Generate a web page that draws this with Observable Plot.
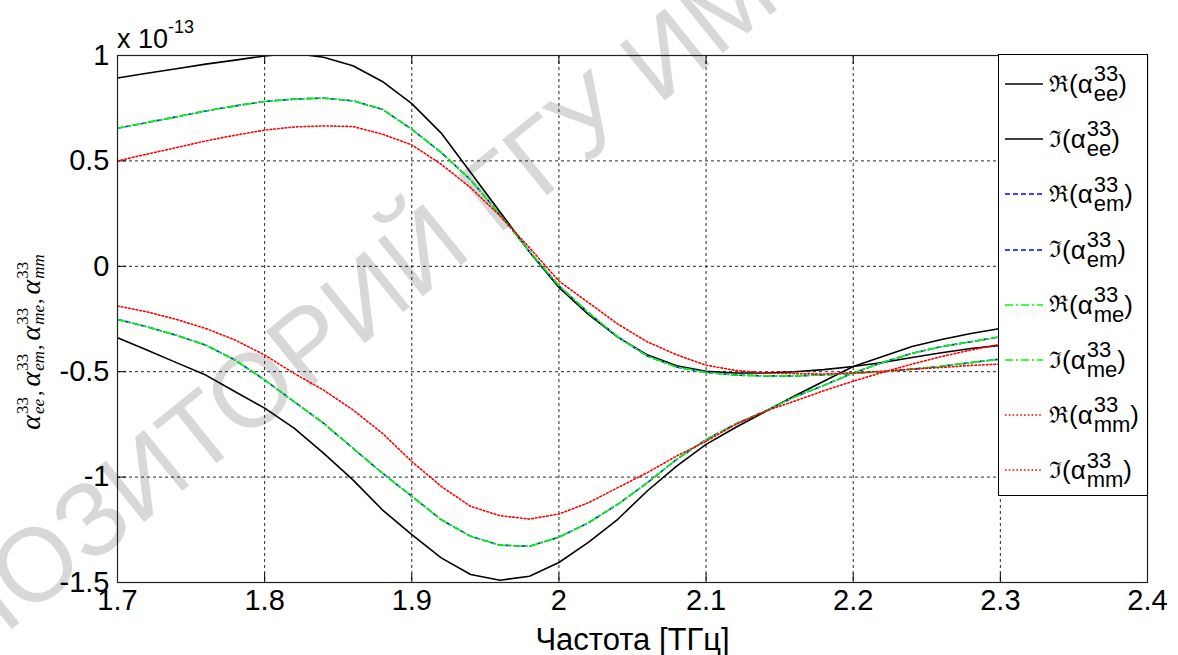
<!DOCTYPE html>
<html>
<head>
<meta charset="utf-8">
<script src="https://cdn.jsdelivr.net/npm/d3@7"></script>
<script src="https://cdn.jsdelivr.net/npm/@observablehq/plot@0.6"></script>
<style>
html, body { margin: 0; padding: 0; background: #fff; }
#wrap { position: relative; width: 1178px; height: 655px; overflow: hidden; font-family: "Liberation Sans", Arial, sans-serif; color: #000; }
#wm { position: absolute; left: 0; top: 0; }
#chart { position: absolute; left: 0; top: 0; }
#expo { position: absolute; left: 117px; top: 23px; font-size: 27px; white-space: nowrap; line-height: 1; }
#expo sup { font-size: 18px; position: relative; top: -5px; }
#ylab { position: absolute; left: 31px; top: 342px; transform: translate(-50%, -50%) rotate(-90deg); white-space: nowrap; font-family: "Liberation Serif", "Times New Roman", serif; display: flex; align-items: center; }
#ylab .al { font-size: 28px; font-style: italic; line-height: 1; }
#ylab .ss { display: inline-flex; flex-direction: column; line-height: 0.95; font-size: 17px; margin-left: 1px; }
#ylab .sb { font-style: italic; }
#ylab .cm { font-size: 22px; margin: 0 4px 0 1px; align-self: flex-end; }
#legend { position: absolute; left: 998px; top: 54px; width: 150px; height: 442px; border: 1px solid #000; background: #fff; box-sizing: border-box; }
#legend .item { position: absolute; left: 0; height: 50px; display: flex; align-items: center; }
#legend svg { margin-left: 6px; margin-right: 6px; }
#legend .lab { display: flex; align-items: center; font-size: 26px; line-height: 1; }
#legend .ss { display: inline-flex; flex-direction: column; line-height: 0.9; font-size: 22px; margin-left: 1px; }
#legend .sym { font-family: "DejaVu Serif", serif; font-size: 23px; }
</style>
</head>
<body>
<div id="wrap">
  <svg id="wm" width="1178" height="655"></svg>
  <div id="chart"></div>
  <div id="expo"></div>
  <div id="ylab"></div>
  <div id="legend"></div>
</div>
<script>
// ---- data (values ×1e-13) ----
const freq = [1.70,1.72,1.74,1.76,1.78,1.80,1.82,1.84,1.86,1.88,1.90,1.92,1.94,1.96,1.98,2.00,2.02,2.04,2.06,2.08,2.10,2.12,2.14,2.16,2.18,2.20,2.22,2.24,2.26,2.28,2.30];
const reEe = [0.893,0.916,0.937,0.959,0.978,0.998,1.01,0.992,0.951,0.877,0.772,0.632,0.445,0.258,0.068,-0.10,-0.228,-0.336,-0.42,-0.472,-0.498,-0.506,-0.506,-0.50,-0.49,-0.475,-0.456,-0.433,-0.41,-0.39,-0.375];
const imEe = [-0.339,-0.397,-0.457,-0.516,-0.595,-0.673,-0.768,-0.886,-1.013,-1.155,-1.273,-1.383,-1.462,-1.489,-1.47,-1.405,-1.31,-1.20,-1.066,-0.948,-0.845,-0.765,-0.69,-0.615,-0.545,-0.475,-0.428,-0.38,-0.347,-0.319,-0.295];
const reEm = [0.655,0.682,0.709,0.737,0.761,0.782,0.793,0.798,0.785,0.745,0.65,0.54,0.41,0.245,0.07,-0.092,-0.22,-0.335,-0.425,-0.478,-0.503,-0.516,-0.52,-0.52,-0.515,-0.508,-0.5,-0.488,-0.474,-0.457,-0.44];
const imEm = [-0.252,-0.287,-0.327,-0.374,-0.445,-0.539,-0.642,-0.744,-0.863,-0.981,-1.091,-1.202,-1.281,-1.323,-1.328,-1.285,-1.217,-1.129,-1.027,-0.916,-0.822,-0.748,-0.687,-0.62,-0.565,-0.506,-0.456,-0.413,-0.381,-0.358,-0.334];
const reMe = [0.655,0.682,0.709,0.737,0.761,0.782,0.793,0.798,0.785,0.745,0.65,0.54,0.41,0.245,0.07,-0.092,-0.22,-0.335,-0.425,-0.478,-0.503,-0.516,-0.52,-0.52,-0.515,-0.508,-0.5,-0.488,-0.474,-0.457,-0.44];
const imMe = [-0.252,-0.287,-0.327,-0.374,-0.445,-0.539,-0.642,-0.744,-0.863,-0.981,-1.091,-1.202,-1.281,-1.323,-1.328,-1.285,-1.217,-1.129,-1.027,-0.916,-0.822,-0.748,-0.687,-0.62,-0.565,-0.506,-0.456,-0.413,-0.381,-0.358,-0.334];
const reMm = [0.50,0.532,0.563,0.595,0.622,0.646,0.661,0.666,0.663,0.627,0.576,0.484,0.373,0.239,0.088,-0.07,-0.172,-0.274,-0.358,-0.42,-0.469,-0.494,-0.506,-0.509,-0.511,-0.506,-0.498,-0.488,-0.48,-0.47,-0.464];
const imMm = [-0.188,-0.216,-0.252,-0.295,-0.35,-0.421,-0.508,-0.587,-0.681,-0.792,-0.926,-1.044,-1.139,-1.183,-1.199,-1.175,-1.122,-1.05,-0.979,-0.9,-0.83,-0.751,-0.688,-0.64,-0.59,-0.545,-0.503,-0.464,-0.428,-0.397,-0.37];

const xTicks = [1.7,1.8,1.9,2.0,2.1,2.2,2.3,2.4];
const yTicks = [-1.5,-1,-0.5,0,0.5,1];
const xLabel = "Частота [ТГц]";
const expoBase = "x 10";
const expoPower = "-13";
const partSymbols = ["ℜ","ℑ"];
const subscripts = ["ee","em","me","mm"];
const superscript = "33";
const seriesColors = ["#000000","#0000ff","#00ff00","#ff0000"];
const seriesDash = [null,"5,3","8,3,2,3","1.6,2.2"];
const watermarkText = "РЕПОЗИТОРИЙ ГГУ ИМЕНИ Ф. СКОРИНЫ";

const seriesVals = [[reEe, imEe],[reEm, imEm],[reMe, imMe],[reMm, imMm]];

// ---- layout ----
const W = 1178, H = 655;
const mL = 117, mR = 31, mT = 55, mB = 73;
const plotW = W - mL - mR, plotH = H - mT - mB;
const tickLen = 9;
const fmt = d => String(+(+d).toFixed(2));

const lineMarks = [];
subscripts.forEach((s, k) => {
  [0, 1].forEach(p => {
    const data = freq.map((f, i) => ({f, v: seriesVals[k][p][i]}));
    const opts = {x: "f", y: "v", stroke: seriesColors[k], strokeWidth: 1.6, clip: true};
    if (seriesDash[k]) opts.strokeDasharray = seriesDash[k];
    lineMarks.push(Plot.line(data, opts));
  });
});

const innerX = xTicks.slice(1, -1);
const innerY = yTicks.slice(1, -1);
const gridStyle = {stroke: "#000", strokeWidth: 1, strokeDasharray: "3,3", strokeOpacity: 0.85};
const tickStyle = {stroke: "#000", strokeWidth: 1};

const chart = Plot.plot({
  width: W, height: H,
  marginLeft: mL, marginRight: mR, marginTop: mT, marginBottom: mB,
  style: {background: "transparent", fontFamily: "'Liberation Sans', Arial, sans-serif", color: "#000", overflow: "visible"},
  x: {domain: [1.7, 2.4]},
  y: {domain: [-1.5, 1]},
  marks: [
    Plot.ruleX(innerX, {x: d => d, ...gridStyle}),
    Plot.ruleY(innerY, {y: d => d, ...gridStyle}),
    Plot.ruleX(xTicks, {x: d => d, insetTop: plotH - tickLen, ...tickStyle}),
    Plot.ruleX(xTicks, {x: d => d, insetBottom: plotH - tickLen, ...tickStyle}),
    Plot.ruleY(yTicks, {y: d => d, insetRight: plotW - tickLen, ...tickStyle}),
    Plot.ruleY(yTicks, {y: d => d, insetLeft: plotW - tickLen, ...tickStyle}),
    ...lineMarks,
    Plot.frame({stroke: "#222", strokeWidth: 1.2}),
    Plot.axisX(xTicks, {anchor: "bottom", tickSize: 0, tickPadding: 7, tickFormat: fmt, fontSize: 29, label: null}),
    Plot.axisX({anchor: "bottom", ticks: [], tickSize: 0, fontSize: 31,
      label: xLabel, labelAnchor: "center", labelArrow: "none", labelOffset: 67}),
    Plot.axisY(yTicks, {anchor: "left", tickSize: 0, tickPadding: 8, tickFormat: fmt, fontSize: 29, label: null})
  ]
});
document.getElementById("chart").appendChild(chart);

// exponent label
document.getElementById("expo").innerHTML = `${expoBase}<sup>${expoPower}</sup>`;

// y label (math)
const ylab = document.getElementById("ylab");
subscripts.forEach((s, i) => {
  const g = document.createElement("span");
  g.style.display = "inline-flex"; g.style.alignItems = "center";
  g.innerHTML = `<span class="al">α</span><span class="ss"><span class="sp">${superscript}</span><span class="sb">${s}</span></span>`;
  ylab.appendChild(g);
  if (i < subscripts.length - 1) {
    const c = document.createElement("span");
    c.className = "cm"; c.textContent = ",";
    ylab.appendChild(c);
  }
});

// legend
const legend = document.getElementById("legend");
let idx = 0;
subscripts.forEach((s, k) => {
  partSymbols.forEach(sym => {
    const item = document.createElement("div");
    item.className = "item";
    item.style.top = (4 + idx * 55.2) + "px";
    const dash = seriesDash[k] ? `stroke-dasharray="${seriesDash[k]}"` : "";
    item.innerHTML = `<svg width="38" height="6"><line x1="0" x2="38" y1="3" y2="3" stroke="${seriesColors[k]}" stroke-width="1.6" ${dash}/></svg>` +
      `<span class="lab"><span class="sym">${sym}</span>(α<span class="ss"><span>${superscript}</span><span>${s}</span></span>)</span>`;
    legend.appendChild(item);
    idx++;
  });
});

// watermark
const wm = d3.select("#wm");
wm.append("text")
  .attr("transform", "translate(-140,752) rotate(-39)")
  .attr("font-size", 104)
  .attr("font-family", "'Liberation Sans', Arial, sans-serif")
  .attr("fill", "#d8d8d8")
  .text(watermarkText);
</script>
</body>
</html>
